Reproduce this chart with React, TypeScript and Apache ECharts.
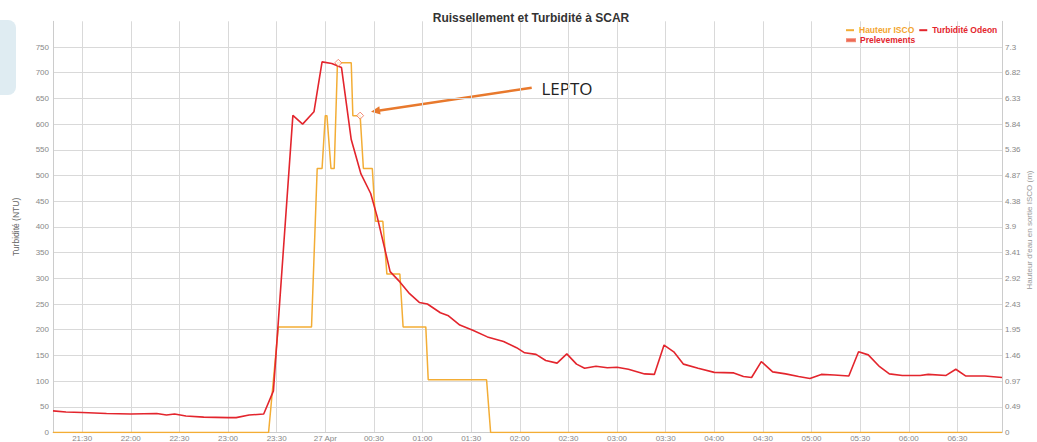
import React, { useEffect, useRef } from "react";
import * as echarts from "echarts";

// ---- Data ----
const turbTimes = [
  "21:12", "21:20", "21:30", "21:45", "22:00", "22:16", "22:22", "22:27", "22:34", "22:45",
  "23:00", "23:05", "23:13", "23:22", "23:28", "23:40", "23:46", "23:53", "23:58", "00:04",
  "00:10", "00:16", "00:22", "00:28", "00:32", "00:40", "00:46", "00:52", "00:58", "01:03",
  "01:11", "01:16", "01:23", "01:31", "01:40", "01:50", "01:58", "02:03", "02:10", "02:16",
  "02:23", "02:29", "02:35", "02:40", "02:47", "02:54", "03:00", "03:07", "03:17", "03:23",
  "03:29", "03:35", "03:41", "03:50", "04:00", "04:12", "04:18", "04:23", "04:29", "04:36",
  "04:44", "04:52", "04:59", "05:06", "05:14", "05:23", "05:29", "05:35", "05:42", "05:48",
  "05:56", "06:07", "06:12", "06:23", "06:29", "06:35", "06:47", "06:57:30",
];
const turbValues = [
  42, 40, 39, 37, 36, 37, 34, 36, 32, 30,
  29, 29, 34, 36, 81, 617, 600, 624, 721, 718,
  710, 570, 503, 465, 420, 313, 293, 270, 253, 250,
  233, 227, 209, 199, 186, 177, 165, 155, 152, 140,
  135, 153, 133, 125, 129, 126, 127, 123, 114, 113,
  170, 157, 133, 125, 117, 116, 109, 107, 138, 118,
  114, 109, 105, 113, 112, 110, 157, 151, 128, 114,
  111, 111, 113, 111, 123, 110, 110, 107,
];

const iscoTimes = [
  "21:12", "23:25", "23:31", "23:51:30", "23:55", "23:58", "00:00", "00:01", "00:03:30", "00:05:30",
  "00:07:30", "00:16", "00:17", "00:21:30", "00:23:30", "00:29", "00:31", "00:35:30", "00:38", "00:46",
  "00:48", "01:02", "01:03:30", "01:39:30", "01:42", "06:57:30",
];
const iscoValues = [
  0, 0, 2, 2, 5, 5, 6, 6, 5, 5,
  7, 7, 6, 6, 5, 5, 4, 4, 3, 3,
  2, 2, 1, 1, 0, 0,
];

const prelevTimes = ["00:08", "00:21:30"];
const prelevValues = [7, 6];

const xTicks = [
  "21:30", "22:00", "22:30", "23:00", "23:30", "00:00", "00:30", "01:00", "01:30", "02:00",
  "02:30", "03:00", "03:30", "04:00", "04:30", "05:00", "05:30", "06:00", "06:30",
];
const leftTicksMax = 800;
const rightMaxLabel = 7.3;
const rightLabels = [
  "0", "0.49", "0.97", "1.46", "1.95", "2.43", "2.92", "3.41",
  "3.9", "4.38", "4.87", "5.36", "5.84", "6.33", "6.82", "7.3",
];
const rightAxisTitle = "Hauteur d'eau en sortie ISCO (m)";

// ---- helpers ----
function ts(hm: string): number {
  const [h, m, s] = hm.split(":").map(Number);
  const day = h >= 12 ? 26 : 27;
  return Date.UTC(2017, 3, day, h, m, s || 0);
}
const zip = (t: string[], v: number[]) => t.map((x, i) => [ts(x), v[i]]);
const pad = (n: number) => (n < 10 ? "0" + n : "" + n);

const RED = "#e3252d";
const YELLOW = "#f3ad35";

export default function App() {
  const ref = useRef<HTMLDivElement>(null);

  useEffect(() => {
    document.body.style.margin = "0";
    if (!ref.current) return;
    const chart = echarts.init(ref.current, undefined, { renderer: "svg" });
    const rightStep = rightMaxLabel / 15;
    const tickVals = xTicks.map(ts);

    chart.setOption({
      animation: false,
      backgroundColor: "#ffffff",
      textStyle: { fontFamily: "Liberation Sans, Arial, sans-serif" },
      title: {
        text: "Ruissellement et Turbidité à SCAR",
        left: 526,
        top: 7,
        textAlign: "center",
        textStyle: { fontSize: 12, fontWeight: "bold", color: "#333" },
      },
      legend: [
        {
          left: 846,
          top: 25.7,
          padding: 0,
          icon: "rect",
          itemWidth: 8,
          itemHeight: 2,
          itemGap: 5,
          selectedMode: false,
          textStyle: { fontSize: 8.5, fontWeight: "bold" },
          data: [
            { name: "Hauteur ISCO", itemStyle: { color: YELLOW }, textStyle: { color: "#f3a52f" } },
            { name: "Turbidité Odeon", itemStyle: { color: RED }, textStyle: { color: RED } },
          ],
        },
        {
          left: 846,
          top: 35.7,
          padding: 0,
          icon: "rect",
          itemWidth: 8,
          itemHeight: 2,
          selectedMode: false,
          textStyle: { fontSize: 8.5, fontWeight: "bold" },
          data: [{ name: "Prelevements", itemStyle: { color: RED }, textStyle: { color: RED } }],
        },
      ],
      grid: { left: 53, right: 35, top: 21.3, bottom: 9.5, outerBoundsMode: "none" },
      xAxis: {
        type: "value",
        min: ts("21:12"),
        max: ts("06:57:30"),
        axisLine: { show: true, lineStyle: { color: "#cccccc" } },
        axisTick: { show: false, customValues: tickVals },
        axisLabel: {
          color: "#888",
          fontSize: 8,
          margin: 1.5,
          hideOverlap: false,
          customValues: tickVals,
          formatter: (v: number) => {
            const d = new Date(v);
            const h = d.getUTCHours();
            const m = d.getUTCMinutes();
            if (h === 0 && m === 0) return "27 Apr";
            return pad(h) + ":" + pad(m);
          },
        },
        splitLine: { show: true, lineStyle: { color: "#d9d9d9", width: 1 } },
      },
      yAxis: [
        {
          type: "value",
          min: 0,
          max: leftTicksMax,
          interval: 50,
          position: "left",
          name: "Turbidité (NTU)",
          nameLocation: "middle",
          nameGap: 33,
          nameRotate: 90,
          nameTextStyle: { color: "#666", fontSize: 8.5 },
          axisLine: { show: true, lineStyle: { color: "#cccccc" } },
          axisTick: { show: false },
          axisLabel: {
            color: "#888",
            fontSize: 8,
            margin: 4,
            showMaxLabel: false,
            formatter: (v: number) => (v >= leftTicksMax ? "" : String(v)),
          },
          splitLine: { show: true, showMaxLine: false, lineStyle: { color: "#d9d9d9" } },
        },
        {
          type: "value",
          min: 0,
          max: rightStep * 16,
          interval: rightStep,
          position: "right",
          axisLine: { show: true, lineStyle: { color: "#cccccc" } },
          axisTick: { show: false },
          axisLabel: {
            color: "#888",
            fontSize: 8,
            margin: 3,
            showMaxLabel: false,
            formatter: (v: number) => {
              const i = Math.round(v / rightStep);
              return rightLabels[i] ?? "";
            },
          },
          splitLine: { show: false },
        },
      ],
      series: [
        {
          name: "Hauteur ISCO",
          type: "line",
          yAxisIndex: 1,
          data: zip(iscoTimes, iscoValues),
          symbol: "none",
          lineStyle: { color: YELLOW, width: 1.5 },
          itemStyle: { color: YELLOW },
        },
        {
          name: "Turbidité Odeon",
          type: "line",
          yAxisIndex: 0,
          data: zip(turbTimes, turbValues),
          symbol: "none",
          lineStyle: { color: RED, width: 1.6 },
          itemStyle: { color: RED },
        },
        {
          name: "Prelevements",
          type: "scatter",
          yAxisIndex: 1,
          data: zip(prelevTimes, prelevValues),
          symbol: "diamond",
          symbolSize: 7,
          itemStyle: { color: "#ffffff", borderColor: "#ef6f55", borderWidth: 1 },
          z: 5,
        },
      ],
      graphic: [
        {
          type: "rect",
          shape: { x: -20, y: 20, width: 36, height: 75, r: 8 },
          style: { fill: "#dfecf2" },
          z: -1,
        },
        {
          type: "text",
          x: 1029,
          y: 230,
          rotation: Math.PI / 2,
          style: {
            text: rightAxisTitle,
            font: "8px 'Liberation Sans', Arial, sans-serif",
            fill: "#999",
            textAlign: "center",
            textVerticalAlign: "middle",
          },
        },
        {
          type: "text",
          x: 567,
          y: 88,
          style: {
            text: "LEPTO",
            font: "17px 'Open Sans', sans-serif",
            fill: "#222",
            textAlign: "center",
            textVerticalAlign: "middle",
          },
        },
        {
          type: "line",
          shape: { x1: 531.7, y1: 87.7, x2: 379.6, y2: 110.4 },
          style: { stroke: "#e8792d", lineWidth: 2.5 },
        },
        {
          type: "polygon",
          shape: { points: [[371, 111.7], [379.3, 106.2], [380.6, 114.6]] },
          style: { fill: "#e8792d" },
        },
      ],
    });

    return () => chart.dispose();
  }, []);

  return <div ref={ref} style={{ width: 1037, height: 442 }} />;
}
